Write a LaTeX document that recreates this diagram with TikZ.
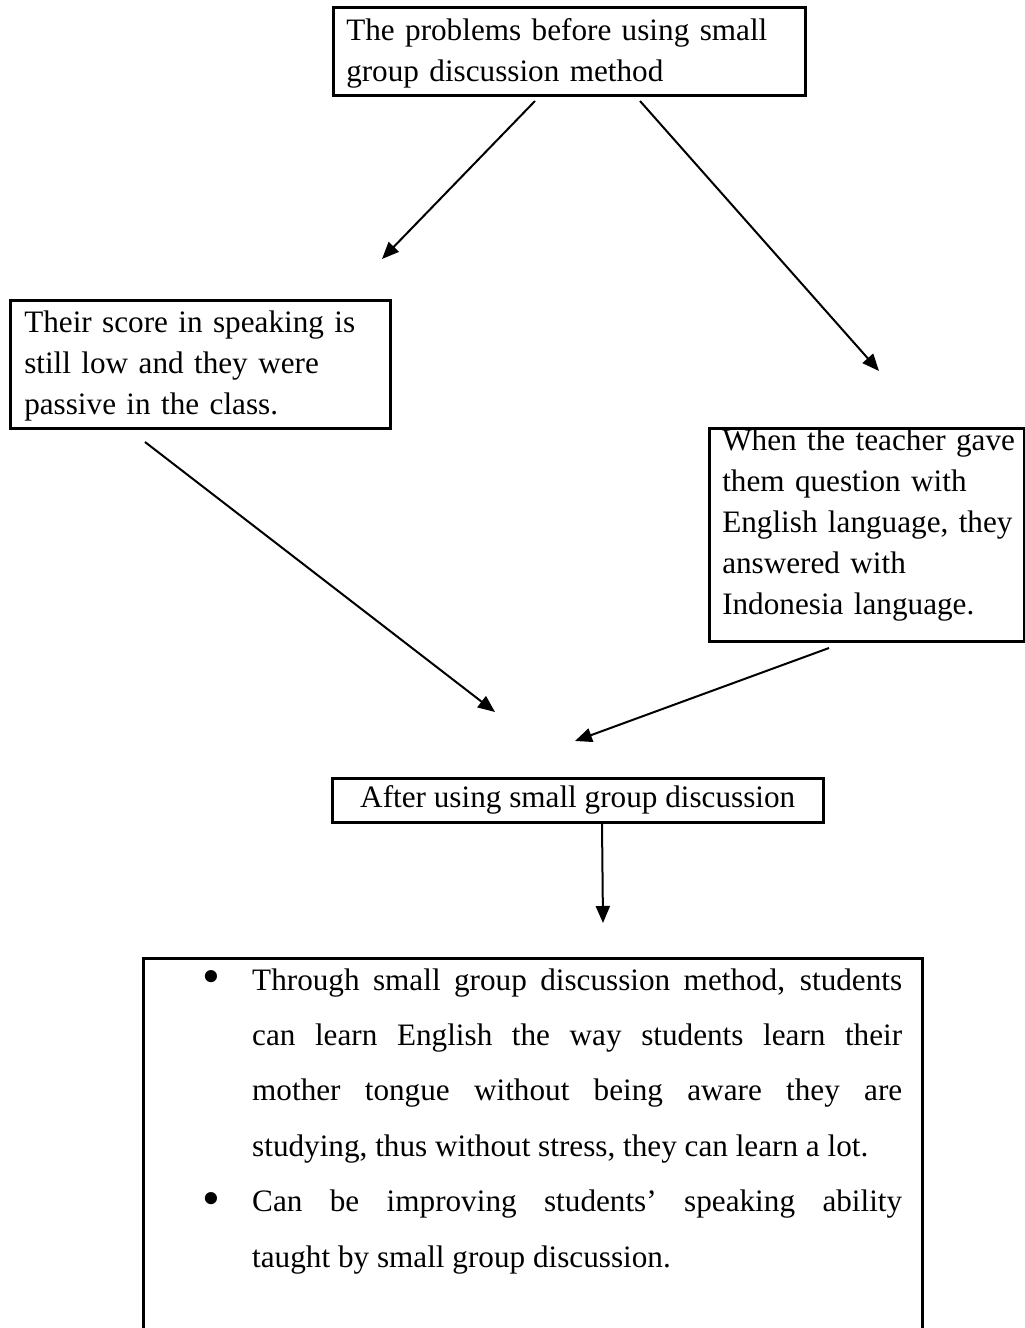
\documentclass[tikz,border=0pt]{standalone}
\usepackage{fontspec}
\setmainfont{Liberation Serif}
\usetikzlibrary{arrows.meta}
\newcommand{\oneln}[1]{\mbox{#1}}
\tikzset{
  boxnode/.style={draw=black, line width=2.5pt, rectangle, anchor=north west,
    inner ysep=0pt, font=\fontsize{31.2}{41}\selectfont},
  bulletmark/.style={anchor=base, inner sep=0pt, font=\fontsize{51}{51}\selectfont},
  connector/.style={draw=black, line width=2pt, -{Triangle[length=17pt,width=14pt]}},
}
\begin{document}
\begin{tikzpicture}[x=1pt,y=-1pt]
\clip (0,0) rectangle (1025,1328);
\fill[white] (0,0) rectangle (1025,1328);

% top box
\node[boxnode, inner xsep=13pt, text width=446pt, align=left,
      text height=33pt, text depth=55pt] (top) at (332,6)
  {\oneln{The problems before using small}\\\oneln{group discussion method}};

% left box
\node[boxnode, inner xsep=14pt, text width=352pt, align=left,
      text height=32pt, text depth=96pt] (left) at (9,299)
  {\oneln{Their score in speaking is}\\\oneln{still low and they were}\\\oneln{passive in the class.}};

% right box
\node[boxnode, inner xsep=13pt, text width=289pt, align=left,
      text height=22pt, text depth=191pt] (right) at (708,427)
  {\oneln{When the teacher gave}\\\oneln{them question with}\\\oneln{English language, they}\\\oneln{answered with}\\\oneln{Indonesia language.}};

% middle box
\node[boxnode, inner xsep=0pt, minimum width=491pt, align=center,
      text height=29pt, text depth=15pt] (after) at (331,777)
  {After using small group discussion};

% bottom box
\node[boxnode, inner xsep=0pt, minimum width=779pt, minimum height=420pt] (result) at (142,957) {};
\node[anchor=base west, inner sep=0pt, font=\fontsize{31.2}{55.4}\selectfont,
      text width=650pt, align=justify] (items) at (252,990)
  {Through small group discussion method, students\linebreak
   can learn English the way students learn their\linebreak
   mother tongue without being aware they are\linebreak
   studying, thus without stress, they can learn a lot.\par
   Can be improving students’ speaking ability\linebreak
   taught by small group discussion.\par};
\node[bulletmark] (b1) at (211,993) {•};
\node[bulletmark] (b2) at (211,1215) {•};

% connector end points
\coordinate (s1) at (535,101);  \coordinate (e1) at (382,259);
\coordinate (s2) at (640,101);  \coordinate (e2) at (879,371);
\coordinate (s3) at (145,442);  \coordinate (e3) at (495,712);
\coordinate (s4) at (829,648);  \coordinate (e4) at (575,741);
\coordinate (s5) at (602,823);  \coordinate (e5) at (603,923);

\draw[connector] (s1) -- (e1);
\draw[connector] (s2) -- (e2);
\draw[connector] (s3) -- (e3);
\draw[connector] (s4) -- (e4);
\draw[connector] (s5) -- (e5);
\end{tikzpicture}
\end{document}
